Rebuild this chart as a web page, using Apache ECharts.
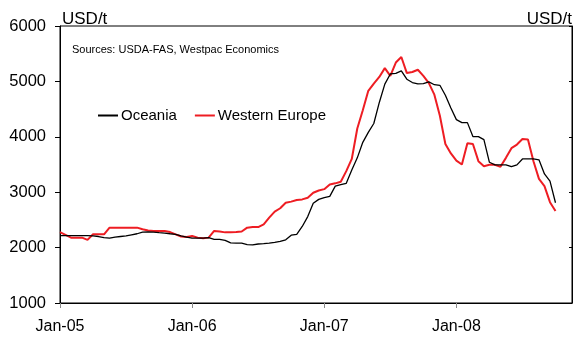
<!DOCTYPE html>
<html>
<head>
<meta charset="utf-8">
<script src="https://cdn.jsdelivr.net/npm/echarts@6/dist/echarts.min.js"></script>
<style>
  html, body { margin: 0; padding: 0; background: #fff; }
  #chart { width: 575px; height: 343px; }
</style>
</head>
<body>
<div id="chart"></div>
<script>
// Semi-monthly periods, Jan-05 through Nov-08 (index 0 = early Jan 2005)
const years = ['05', '06', '07', '08'];
const monthNames = ['Jan', 'Feb', 'Mar', 'Apr', 'May', 'Jun', 'Jul', 'Aug', 'Sep', 'Oct', 'Nov', 'Dec'];
const periodCount = 94;

// Tick labels shown on the time axis (one per January)
const yearTicks = ['Jan-05', 'Jan-06', 'Jan-07', 'Jan-08'];

// Butter export prices, USD per tonne
const oceania = [
  2215, 2215, 2215, 2215, 2215, 2215, 2210, 2200, 2180, 2172,
  2190, 2200, 2210, 2230, 2250, 2280, 2285, 2280, 2270, 2262,
  2250, 2240, 2210, 2190, 2170, 2170, 2172, 2180, 2150, 2150,
  2130, 2085, 2082, 2082, 2055, 2050, 2065, 2070, 2082, 2095,
  2111, 2141, 2225, 2240, 2381, 2560, 2800, 2870, 2904, 2925,
  3110, 3135, 3160, 3400, 3620, 3900, 4080, 4240, 4620, 4950,
  5134, 5146, 5190, 5040, 4980, 4954, 4960, 4990, 4940, 4930,
  4750, 4520, 4310, 4256, 4256, 4004, 4004, 3950, 3540, 3494,
  3494, 3494, 3460, 3494, 3600, 3602, 3602, 3584, 3330, 3200,
  2810
];
const westernEurope = [
  2280, 2230, 2180, 2180, 2180, 2140, 2240, 2240, 2240, 2360,
  2360, 2360, 2360, 2360, 2360, 2330, 2310, 2300, 2300, 2300,
  2280, 2240, 2200, 2190, 2210, 2180, 2170, 2180, 2300, 2290,
  2275, 2275, 2280, 2290, 2360, 2370, 2370, 2420, 2540, 2650,
  2710, 2810, 2830, 2860, 2870, 2900, 2990, 3030, 3055, 3140,
  3160, 3190, 3380, 3600, 4150, 4480, 4830, 4960, 5080, 5240,
  5100, 5340, 5440, 5150, 5170, 5210, 5100, 4970, 4760, 4380,
  3870, 3700, 3570, 3500, 3885, 3870, 3560, 3470, 3494, 3494,
  3460, 3620, 3795, 3860, 3960, 3950, 3560, 3240, 3110, 2820,
  2660
];

// Build period labels: two per month
const periods = [];
for (let i = 0; i < periodCount; i++) {
  const m = Math.floor(i / 2);
  const y = years[Math.floor(m / 12)] || '09';
  periods.push(monthNames[m % 12] + '-' + y + (i % 2 ? 'b' : 'a'));
}
const isYearStart = (idx) => idx % 24 === 0;

const chart = echarts.init(document.getElementById('chart'), null, { renderer: 'canvas' });
const font = 'Liberation Sans, Arial, sans-serif';

chart.setOption({
  animation: false,
  backgroundColor: '#ffffff',
  textStyle: { fontFamily: font },
  grid: {
    left: 60, right: 1, top: 26, bottom: 40,
    show: true, borderColor: '#000', borderWidth: 1,
    containLabel: false
  },
  graphic: [{
    type: 'text', left: 72, top: 44,
    style: { text: 'Sources: USDA-FAS, Westpac Economics', fontSize: 11, fontFamily: font, fill: '#000' }
  }],
  legend: {
    left: 93, top: 103,
    itemWidth: 20, itemHeight: 2, itemGap: 18,
    icon: 'rect',
    textStyle: { fontSize: 15, color: '#000', fontFamily: font, padding: [0, 0, 0, -2] },
    data: ['Oceania', 'Western Europe']
  },
  xAxis: {
    type: 'category',
    data: periods,
    boundaryGap: false,
    axisLine: { lineStyle: { color: '#000', width: 1 } },
    axisTick: {
      interval: (idx) => isYearStart(idx),
      length: 5,
      lineStyle: { color: '#888' }
    },
    axisLabel: {
      interval: (idx) => isYearStart(idx),
      formatter: (val, idx) => yearTicks[idx / 24] || '',
      fontSize: 16, color: '#000', margin: 16, fontFamily: font
    },
    splitLine: { show: false }
  },
  yAxis: [{
    type: 'value',
    min: 1000, max: 6000, interval: 1000,
    name: 'USD/t',
    nameLocation: 'end',
    nameGap: -2,
    nameTextStyle: { fontSize: 17, color: '#000', align: 'left', padding: [0, 0, 0, 2], fontFamily: font },
    axisLine: { show: true, lineStyle: { color: '#000' } },
    axisTick: { show: true, length: 5, lineStyle: { color: '#000' } },
    axisLabel: { fontSize: 16.5, color: '#000', margin: 14, fontFamily: font, formatter: (v) => String(v) },
    splitLine: { show: false }
  }, {
    type: 'value',
    position: 'right',
    min: 1000, max: 6000, interval: 1000,
    name: 'USD/t',
    nameLocation: 'end',
    nameGap: -2,
    nameTextStyle: { fontSize: 17, color: '#000', align: 'right', fontFamily: font },
    axisLine: { show: true, lineStyle: { color: '#000' } },
    axisTick: { show: true, inside: true, length: 3, lineStyle: { color: '#000' } },
    axisLabel: { show: false },
    splitLine: { show: false }
  }],
  series: [{
    name: 'Oceania',
    type: 'line',
    data: oceania,
    showSymbol: false,
    color: '#000',
    lineStyle: { color: '#000', width: 1.3 },
    z: 3
  }, {
    name: 'Western Europe',
    type: 'line',
    data: westernEurope,
    showSymbol: false,
    color: '#ee1d23',
    lineStyle: { color: '#ee1d23', width: 2 },
    z: 2
  }]
});
</script>
</body>
</html>
